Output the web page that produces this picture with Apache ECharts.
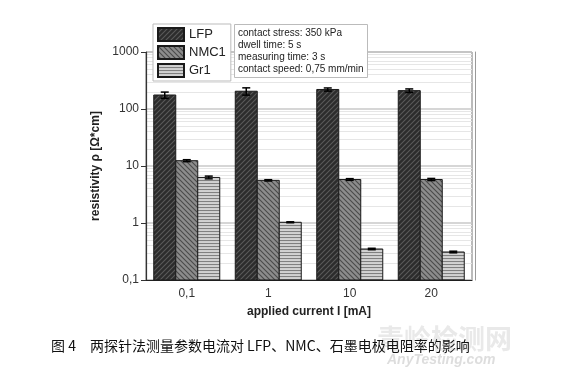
<!DOCTYPE html>
<html>
<head>
<meta charset="utf-8">
<script src="https://cdn.jsdelivr.net/npm/echarts@6/dist/echarts.min.js"></script>
<style>
  html, body { margin: 0; padding: 0; background: #fff; }
  #main { width: 570px; height: 377px; }
</style>
</head>
<body>
<div id="main"></div>
<script>
// 数据
const categories = ['0,1', '1', '10', '20'];
const lfp = [176, 205, 220, 210];
const lfpErr = [22, 30, 14, 15];
const nmc = [12.4, 5.6, 5.8, 5.8];
const nmcErr = [0.5, 0.15, 0.2, 0.25];
const gr = [6.3, 1.03, 0.35, 0.31];
const grErr = [0.35, 0.02, 0.01, 0.01];
const yTicks = [0.1, 1, 10, 100, 1000];
const minorLines = [];
for (let d = 0; d < yTicks.length - 1; d++) {
  for (let m = 2; m <= 9; m++) minorLines.push(+(m * yTicks[d]).toPrecision(3));
}
const infoLines = ['contact stress: 350 kPa', 'dwell time: 5 s', 'measuring time: 3 s', 'contact speed: 0,75 mm/min'];

const barW = 22;
const yMin = 0.1;

// 填充图案
function hatch(bg, fg, kind) {
  const s = kind === 'h' ? 3 : 5;
  const c = document.createElement('canvas');
  c.width = s; c.height = s;
  const ctx = c.getContext('2d');
  ctx.fillStyle = bg;
  ctx.fillRect(0, 0, s, s);
  ctx.strokeStyle = fg;
  ctx.lineWidth = 1.1;
  ctx.beginPath();
  if (kind === 'h') {
    ctx.moveTo(0, 0.5); ctx.lineTo(s, 0.5);
  } else if (kind === '/') {
    ctx.moveTo(-1, s + 1); ctx.lineTo(s + 1, -1);
    ctx.moveTo(-1, 1); ctx.lineTo(1, -1);
    ctx.moveTo(s - 1, s + 1); ctx.lineTo(s + 1, s - 1);
  } else {
    ctx.moveTo(-1, -1); ctx.lineTo(s + 1, s + 1);
    ctx.moveTo(s - 1, -1); ctx.lineTo(s + 1, 1);
    ctx.moveTo(-1, s - 1); ctx.lineTo(1, s + 1);
  }
  ctx.stroke();
  return { image: c, repeat: 'repeat' };
}

const fills = [
  hatch('#2c2c2c', '#5a5a5a', '/'),
  hatch('#8c8c8c', '#4a4a4a', '\\'),
  hatch('#d2d2d2', '#808080', 'h')
];

// 柱子（从轴底 0.1 画起）
function barSeries(name, data, i) {
  return {
    name: name,
    type: 'custom',
    z: 3,
    data: data.map((v, k) => [k, v]),
    itemStyle: { color: fills[i], borderColor: '#1a1a1a', borderWidth: 1 },
    renderItem: (params, api) => {
      const top = api.coord([api.value(0), api.value(1)]);
      const bot = api.coord([api.value(0), yMin]);
      const x = top[0] + (i - 1.5) * barW;
      return {
        type: 'rect',
        shape: { x: x, y: top[1], width: barW, height: bot[1] - top[1] },
        style: { fill: fills[i], stroke: '#1a1a1a', lineWidth: 1 }
      };
    }
  };
}

function errSeries(vals, errs, i) {
  return {
    type: 'custom',
    z: 5,
    silent: true,
    data: vals.map((v, k) => [k, v, errs[k]]),
    renderItem: (params, api) => {
      const v = api.value(1), e = api.value(2);
      const top = api.coord([api.value(0), v + e]);
      const bot = api.coord([api.value(0), v - e]);
      const x = top[0] + (i - 1) * barW;
      const cap = 4;
      const st = { stroke: '#000', lineWidth: 1.5 };
      return {
        type: 'group',
        children: [
          { type: 'line', shape: { x1: x, y1: top[1], x2: x, y2: bot[1] }, style: st },
          { type: 'line', shape: { x1: x - cap, y1: top[1], x2: x + cap, y2: top[1] }, style: st },
          { type: 'line', shape: { x1: x - cap, y1: bot[1], x2: x + cap, y2: bot[1] }, style: st }
        ]
      };
    }
  };
}

const chart = echarts.init(document.getElementById('main'));
chart.setOption({
  backgroundColor: '#fff',
  animation: false,
  textStyle: { fontFamily: 'Liberation Sans, Arial, sans-serif' },
  grid: { left: 146, right: 98, top: 52, bottom: 97, show: true, borderColor: '#777', borderWidth: 1 },
  title: [
    {
      text: infoLines.join('\n'),
      left: 234, top: 24,
      padding: [3, 4, 3, 4],
      borderColor: '#bbb', borderWidth: 1, backgroundColor: '#fff',
      textStyle: { fontSize: 10, lineHeight: 12, fontWeight: 'normal', color: '#222' }
    },
    {
      text: '图 4　两探针法测量参数电流对 LFP、NMC、石墨电极电阻率的影响',
      left: 46, top: 334,
      textStyle: { fontSize: 14, fontWeight: 'normal', color: '#111', fontFamily: 'Noto Sans CJK SC' }
    },
    {
      text: '青岭检测网',
      left: 372, top: 320,
      z: 0,
      textStyle: { fontSize: 27, fontWeight: 'bold', color: 'rgba(200,200,200,0.4)', fontFamily: 'Noto Sans CJK SC' }
    },
    {
      text: 'AnyTesting.com',
      left: 382, top: 348,
      z: 0,
      textStyle: { fontSize: 14, fontWeight: 'bold', fontStyle: 'italic', color: 'rgba(180,180,180,0.45)' }
    }
  ],
  legend: {
    orient: 'vertical',
    left: 153, top: 24,
    padding: [3, 5, 3, 4],
    itemGap: 3,
    itemWidth: 26, itemHeight: 13,
    icon: 'rect',
    z: 10,
    borderColor: '#bbb', borderWidth: 1, backgroundColor: '#fff',
    textStyle: { fontSize: 13, color: '#222' },
    data: ['LFP', 'NMC1', 'Gr1']
  },
  xAxis: {
    type: 'category',
    data: categories,
    name: 'applied current I [mA]',
    nameLocation: 'middle',
    nameGap: 26,
    nameTextStyle: { fontSize: 12, fontWeight: 'bold', color: '#222' },
    axisLine: { lineStyle: { color: '#222', width: 1.2 } },
    axisTick: { alignWithLabel: true, length: 4, lineStyle: { color: '#222' } },
    axisLabel: { fontSize: 12, color: '#333', margin: 8 },
    splitLine: { show: false }
  },
  yAxis: [
    {
      type: 'log',
      logBase: 10,
      min: 0.1,
      max: 1000,
      name: 'resistivity \u03c1 [\u03a9*cm]',
      nameLocation: 'middle',
      nameGap: 33,
      nameTextStyle: { fontSize: 12, fontWeight: 'bold', color: '#222' },
      axisLine: { show: true, lineStyle: { color: '#333', width: 1.2 } },
      axisTick: { show: true, length: 5, lineStyle: { color: '#333' } },
      axisLabel: {
        fontSize: 12, color: '#333', margin: 7,
        formatter: v => String(+v.toPrecision(3)).replace('.', ',')
      },
      splitLine: { show: true, lineStyle: { color: '#c8c8c8', width: 1.5 } }
    },
    {
      type: 'value',
      position: 'right',
      offset: 3,
      min: 0, max: 1,
      axisLine: { show: true, lineStyle: { color: '#999', width: 1 } },
      axisTick: { show: false },
      axisLabel: { show: false },
      splitLine: { show: false }
    }
  ],
  series: [
    barSeries('LFP', lfp, 0),
    barSeries('NMC1', nmc, 1),
    barSeries('Gr1', gr, 2),
    errSeries(lfp, lfpErr, 0),
    errSeries(nmc, nmcErr, 1),
    errSeries(gr, grErr, 2),
    {
      type: 'line',
      data: [],
      silent: true,
      z: 1,
      markLine: {
        silent: true,
        z: 0,
        symbol: 'none',
        label: { show: false },
        lineStyle: { color: '#e6e6e6', type: 'solid', width: 1 },
        data: minorLines.map(v => ({ yAxis: v }))
      }
    }
  ]
});
</script>
</body>
</html>
